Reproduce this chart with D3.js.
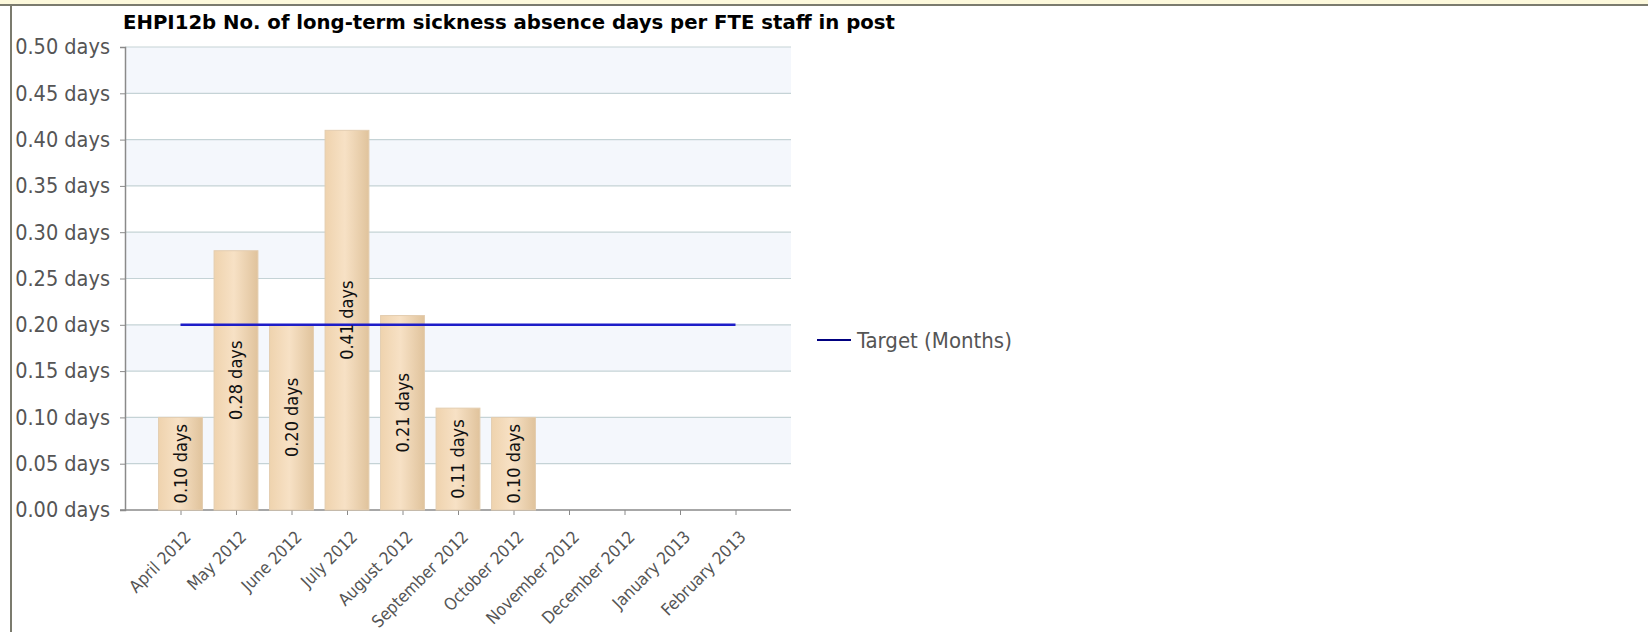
<!DOCTYPE html>
<html>
<head>
<meta charset="utf-8">
<script src="https://cdn.jsdelivr.net/npm/d3@7"></script>
<style>
  body { margin: 0; background: #fff; }
  svg { display: block; }
</style>
</head>
<body>
<div id="chart-area"></div>
<script>
// data
var months = ["April 2012", "May 2012", "June 2012", "July 2012", "August 2012",
    "September 2012", "October 2012", "November 2012", "December 2012",
    "January 2013", "February 2013"]
var values = [0.10, 0.28, 0.20, 0.41, 0.21, 0.11, 0.10, null, null, null, null]
var target = [0.20, 0.20, 0.20, 0.20, 0.20, 0.20, 0.20, 0.20, 0.20, 0.20, 0.20]
var yTicks = [0, 0.05, 0.10, 0.15, 0.20, 0.25, 0.30, 0.35, 0.40, 0.45, 0.50]

var W = 1648, H = 632
var font = "'DejaVu Sans Condensed', 'DejaVu Sans', sans-serif"

// plot box
var margin = { left: 125, top: 47 }
var width = 666, height = 463

var svg = d3.select("#chart-area")
    .append("svg")
        .attr("width", W)
        .attr("height", H)

// page frame
svg.append("rect").attr("x", 0).attr("y", 0).attr("width", W).attr("height", 4).attr("fill", "#fdf9dc")
svg.append("rect").attr("x", 0).attr("y", 4).attr("width", W).attr("height", 2).attr("fill", "#7b7b6e")
svg.append("rect").attr("x", 10).attr("y", 4).attr("width", 2).attr("height", H).attr("fill", "#7b7b6e")

var defs = svg.append("defs")
var grad = defs.append("linearGradient").attr("id", "barGrad")
grad.append("stop").attr("offset", "0%").attr("stop-color", "#efd3ae")
grad.append("stop").attr("offset", "45%").attr("stop-color", "#f7e1c5")
grad.append("stop").attr("offset", "100%").attr("stop-color", "#e0c39c")

var g = svg.append("g")
    .attr("transform", "translate(" + margin.left + "," + margin.top + ")")

// scales
var x = d3.scalePoint()
    .domain(months)
    .range([0, width])
    .padding(1)

var y = d3.scaleLinear()
    .domain([0, 0.5])
    .range([height, 0])

var barW = x.step() * 0.79

// alternating bands
var bands = d3.pairs(yTicks)
g.selectAll(".band")
    .data(bands)
    .enter().append("rect")
        .attr("class", "band")
        .attr("x", 0)
        .attr("y", function(d){ return y(d[1]) })
        .attr("width", width)
        .attr("height", function(d){ return y(d[0]) - y(d[1]) })
        .attr("fill", function(d, i){ return i % 2 == 0 ? "#ffffff" : "#f4f7fc" })

// grid lines
g.selectAll(".grid")
    .data(yTicks.slice(1))
    .enter().append("line")
        .attr("x1", 0)
        .attr("x2", width)
        .attr("y1", function(d){ return y(d) })
        .attr("y2", function(d){ return y(d) })
        .attr("stroke", "#c5d3d6")
        .attr("stroke-width", 1.2)

// Y axis
var yAxisCall = d3.axisLeft(y)
    .tickValues(yTicks)
    .tickSize(5)
    .tickPadding(10)
    .tickFormat(function(d){ return d3.format(".2f")(d) + " days" })
var yAxis = g.append("g").call(yAxisCall)
yAxis.select(".domain").attr("stroke", "#8a8a8a").attr("stroke-width", 1.5)
yAxis.selectAll(".tick line").attr("stroke", "#8a8a8a")
yAxis.selectAll("text")
    .attr("fill", "#555")
    .attr("font-family", font)
    .attr("font-size", "21.5px")

// X Axis
var xAxisCall = d3.axisBottom(x)
    .tickSize(5)
    .tickSizeOuter(0)
var xAxis = g.append("g")
    .attr("transform", "translate(0," + height + ")")
    .call(xAxisCall)
xAxis.select(".domain").attr("stroke", "#8a8a8a").attr("stroke-width", 1.5)
    .attr("d", "M-5,0H" + width)
xAxis.selectAll(".tick line").attr("stroke", "#8a8a8a")
xAxis.selectAll("text")
    .attr("fill", "#555")
    .attr("font-family", font)
    .attr("font-size", "17px")
    .attr("text-anchor", "end")
    .attr("y", 0)
    .attr("dy", "0")
    .attr("transform", "translate(11,28) rotate(-45)")

// Bars
var barData = months.map(function(m, i){ return { m: m, v: values[i] } })
    .filter(function(d){ return d.v != null })

g.selectAll(".bar")
    .data(barData)
    .enter().append("rect")
        .attr("class", "bar")
        .attr("x", function(d){ return x(d.m) - barW / 2 })
        .attr("y", function(d){ return y(d.v) })
        .attr("width", barW)
        .attr("height", function(d){ return height - y(d.v) })
        .attr("fill", "url(#barGrad)")
        .attr("stroke", "#e3cdb0")
        .attr("stroke-width", 1)

// Target line
var line = d3.line()
    .x(function(d, i){ return x(months[i]) })
    .y(function(d){ return y(d) })
g.append("path")
    .datum(target)
    .attr("d", line)
    .attr("fill", "none")
    .attr("stroke", "#1d1dc8")
    .attr("stroke-width", 2.5)

// Bar labels
g.selectAll(".lbl")
    .data(barData)
    .enter().append("text")
        .attr("class", "lbl")
        .attr("transform", function(d){
            return "translate(" + x(d.m) + "," + (y(d.v) + height) / 2 + ") rotate(-90)"
        })
        .attr("text-anchor", "middle")
        .attr("dy", "0.35em")
        .attr("font-family", font)
        .attr("font-size", "18px")
        .attr("fill", "#111")
        .text(function(d){ return d3.format(".2f")(d.v) + " days" })

// Title
svg.append("text")
    .attr("x", 123)
    .attr("y", 29)
    .attr("font-family", "'DejaVu Sans', sans-serif")
    .attr("font-weight", "bold")
    .attr("font-size", "19.7px")
    .attr("fill", "#000")
    .text("EHPI12b No. of long-term sickness absence days per FTE staff in post")

// Legend
var lg = svg.append("g").attr("transform", "translate(817,340)")
lg.append("line").attr("x1", 0).attr("x2", 34).attr("y1", 0).attr("y2", 0)
    .attr("stroke", "#000080").attr("stroke-width", 2)
lg.append("text")
    .attr("x", 40)
    .attr("dy", "0.35em")
    .attr("font-family", font)
    .attr("font-size", "22px")
    .attr("fill", "#555")
    .text("Target (Months)")
</script>
</body>
</html>
